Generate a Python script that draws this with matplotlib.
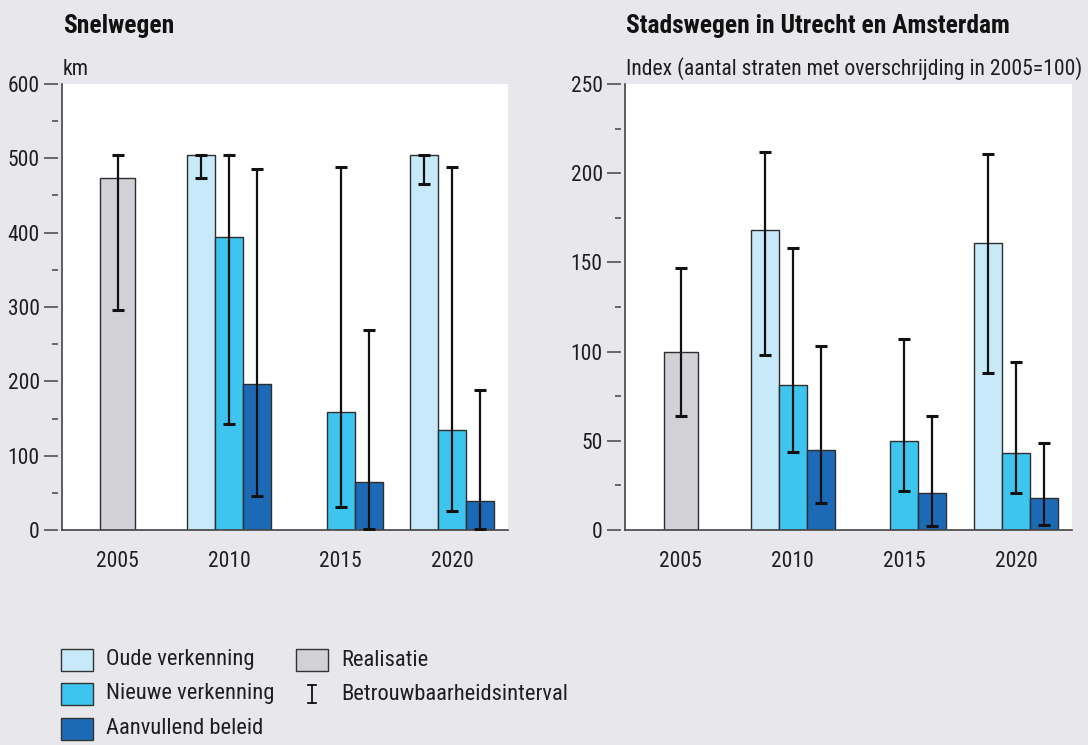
import matplotlib
matplotlib.use("Agg")
import matplotlib.pyplot as plt
import matplotlib.transforms as mtransforms
import matplotlib.font_manager as fm
from matplotlib.patches import Rectangle
from matplotlib.lines import Line2D
import numpy as np

# ---- data -------------------------------------------------------------
years = ["2005", "2010", "2015", "2020"]
series_names = ["Oude verkenning", "Nieuwe verkenning", "Aanvullend beleid"]
nan = np.nan

# Snelwegen, km with exceedance
snel_realisatie = 474
snel_realisatie_ci = (296, 505)
snel_oude = [nan, 505, nan, 505]
snel_oude_lo = [nan, 473, nan, 466]
snel_oude_hi = [nan, 505, nan, 505]
snel_nieuw = [nan, 394, 159, 134]
snel_nieuw_lo = [nan, 143, 31, 25]
snel_nieuw_hi = [nan, 505, 488, 488]
snel_aanv = [nan, 197, 64, 39]
snel_aanv_lo = [nan, 46, 2, 2]
snel_aanv_hi = [nan, 486, 269, 188]

# Stadswegen, index (2005 = 100)
stad_realisatie = 100
stad_realisatie_ci = (64, 147)
stad_oude = [nan, 168, nan, 161]
stad_oude_lo = [nan, 98, nan, 88]
stad_oude_hi = [nan, 212, nan, 211]
stad_nieuw = [nan, 81, 50, 43]
stad_nieuw_lo = [nan, 44, 22, 21]
stad_nieuw_hi = [nan, 158, 107, 94]
stad_aanv = [nan, 45, 21, 18]
stad_aanv_lo = [nan, 15, 2, 3]
stad_aanv_hi = [nan, 103, 64, 49]


# ---- fonts: prefer a narrow sans ---------------------------------------
def pick_font():
    entries = fm.fontManager.ttflist
    names = {e.name for e in entries}
    # (family, stretch, size factor)
    for fam, fac in [("Roboto Condensed", 1.0), ("Liberation Sans Narrow", 1.07),
                     ("Arial Narrow", 1.07), ("Open Sans Condensed", 1.02),
                     ("Noto Sans Condensed", 1.05)]:
        if fam in names:
            return fam, "normal", fac
    for fam, fac in [("Noto Sans", 1.05), ("Open Sans", 1.02), ("DejaVu Sans", 0.88)]:
        if any(e.name == fam and str(e.stretch) in ("condensed", "semi-condensed",
                                                    "extra-condensed")
               for e in entries):
            return fam, "condensed", fac
    return "Liberation Sans", "normal", 0.9


FAMILY, STRETCH, FAC = pick_font()
plt.rcParams["font.family"] = [FAMILY, "DejaVu Sans"]
plt.rcParams["font.stretch"] = STRETCH

# ---- style ------------------------------------------------------------
BG = "#e8e8ec"
COLORS = ["#c8e9f9", "#3ec5ef", "#1c69b6"]
GREY = "#d2d2d6"
EDGE = "#2e2e2e"
AXIS = "#444444"
TEXT = "#1e1e1e"
BAR_W = 0.25
REAL_W = 0.31
FS_TICK = 15.5 * FAC
FS_UNIT = 15.6 * FAC
FS_TITLE = 18.4 * FAC
FS_LEG = 16.2 * FAC

fig = plt.figure(figsize=(10.88, 7.45), dpi=100, facecolor=BG)

ax_l = fig.add_axes([62 / 1088, 215 / 745, 446 / 1088, 446 / 745])
ax_r = fig.add_axes([625 / 1088, 215 / 745, 447 / 1088, 446 / 745])


def dash_ticks(ax, values, center_px, length_pt):
    off = mtransforms.ScaledTranslation(center_px / 100, 0, fig.dpi_scale_trans)
    ax.plot(np.zeros(len(values)), values, ls="none", marker="_",
            ms=length_pt, mew=1.1, color=AXIS,
            transform=ax.get_yaxis_transform() + off, clip_on=False)


def panel(ax, real, real_ci, groups, ymax, ystep, title, unit):
    ax.set_facecolor("white")
    x = np.arange(len(years))

    # realisatie (2005)
    ax.bar(x[0], real, width=REAL_W, color=GREY, edgecolor=EDGE, linewidth=1.0, zorder=2)
    ax.errorbar(x[0], real, yerr=[[real - real_ci[0]], [real_ci[1] - real]],
                fmt="none", ecolor="#111111", elinewidth=1.6, capsize=4,
                capthick=2.2, zorder=3)

    # projections per year, three slots around each tick
    for j, (vals, lo, hi) in enumerate(groups):
        vals = np.asarray(vals, float)
        lo = np.asarray(lo, float)
        hi = np.asarray(hi, float)
        ok = ~np.isnan(vals)
        xs = x[ok] + (j - 1) * BAR_W
        ax.bar(xs, vals[ok], width=BAR_W, color=COLORS[j], edgecolor=EDGE,
               linewidth=1.0, zorder=2)
        ax.errorbar(xs, vals[ok], yerr=[vals[ok] - lo[ok], hi[ok] - vals[ok]],
                    fmt="none", ecolor="#111111", elinewidth=1.6, capsize=4,
                    capthick=2.2, zorder=3)

    ax.set_xlim(-0.5, 3.5)
    ax.set_ylim(0, ymax)
    ax.set_xticks(x)
    ax.set_xticklabels(years)
    majors = np.arange(0, ymax + 1, ystep)
    ax.set_yticks(majors)
    ax.set_yticklabels([f"{v:g}" for v in majors])
    ax.tick_params(axis="both", length=0, labelsize=FS_TICK, colors=TEXT)
    ax.tick_params(axis="y", pad=16)
    ax.tick_params(axis="x", pad=15)

    for s in ("top", "right"):
        ax.spines[s].set_visible(False)
    for s in ("left", "bottom"):
        ax.spines[s].set_color(AXIS)
        ax.spines[s].set_linewidth(1.2)

    dash_ticks(ax, majors, -11.5, 10.5)
    dash_ticks(ax, majors[:-1] + ystep / 2, -7.5, 5)

    u = ax.text(0.0, 1.0, unit, ha="left", va="baseline", fontsize=FS_UNIT, color=TEXT)
    u.set_transform(ax.transAxes + mtransforms.ScaledTranslation(1 / 100, 9 / 100, fig.dpi_scale_trans))
    t = ax.text(0.0, 1.0, title, ha="left", va="baseline",
                fontsize=FS_TITLE, fontweight="bold", color="#111111")
    t.set_transform(ax.transAxes + mtransforms.ScaledTranslation(1 / 100, 51 / 100, fig.dpi_scale_trans))


panel(ax_l, snel_realisatie, snel_realisatie_ci,
      [(snel_oude, snel_oude_lo, snel_oude_hi),
       (snel_nieuw, snel_nieuw_lo, snel_nieuw_hi),
       (snel_aanv, snel_aanv_lo, snel_aanv_hi)],
      600, 100, "Snelwegen", "km")

panel(ax_r, stad_realisatie, stad_realisatie_ci,
      [(stad_oude, stad_oude_lo, stad_oude_hi),
       (stad_nieuw, stad_nieuw_lo, stad_nieuw_hi),
       (stad_aanv, stad_aanv_lo, stad_aanv_hi)],
      250, 50, "Stadswegen in Utrecht en Amsterdam",
      "Index (aantal straten met overschrijding in 2005=100)")

# ---- legend -----------------------------------------------------------
W, H = 1088, 745


def fx(px):
    return px / W


def fy(py):
    return 1 - py / H


def swatch(x0, yc, color):
    fig.patches.append(Rectangle((fx(x0), fy(yc + 11)), fx(32), 22 / H,
                                 facecolor=color, edgecolor="#333333",
                                 linewidth=1.0, transform=fig.transFigure))


def label(x0, yc, txt):
    fig.text(fx(x0), fy(yc), txt, ha="left", va="center", fontsize=FS_LEG, color=TEXT)


rows = [660, 694, 729]
for j, name in enumerate(series_names):
    swatch(61, rows[j], COLORS[j])
    label(106, rows[j], name)

swatch(296, rows[0], GREY)
label(341, rows[0], "Realisatie")

# I-beam symbol for the confidence interval
xc = fx(312)
fig.lines.append(Line2D([xc, xc], [fy(rows[1] - 9), fy(rows[1] + 9)], color="#111111",
                        linewidth=1.3, transform=fig.transFigure))
for yy in (rows[1] - 9, rows[1] + 9):
    fig.lines.append(Line2D([fx(308), fx(316)], [fy(yy), fy(yy)], color="#111111",
                            linewidth=1.3, transform=fig.transFigure))
label(341, rows[1], "Betrouwbaarheidsinterval")

fig.savefig("out.png", dpi=100, facecolor=BG)
